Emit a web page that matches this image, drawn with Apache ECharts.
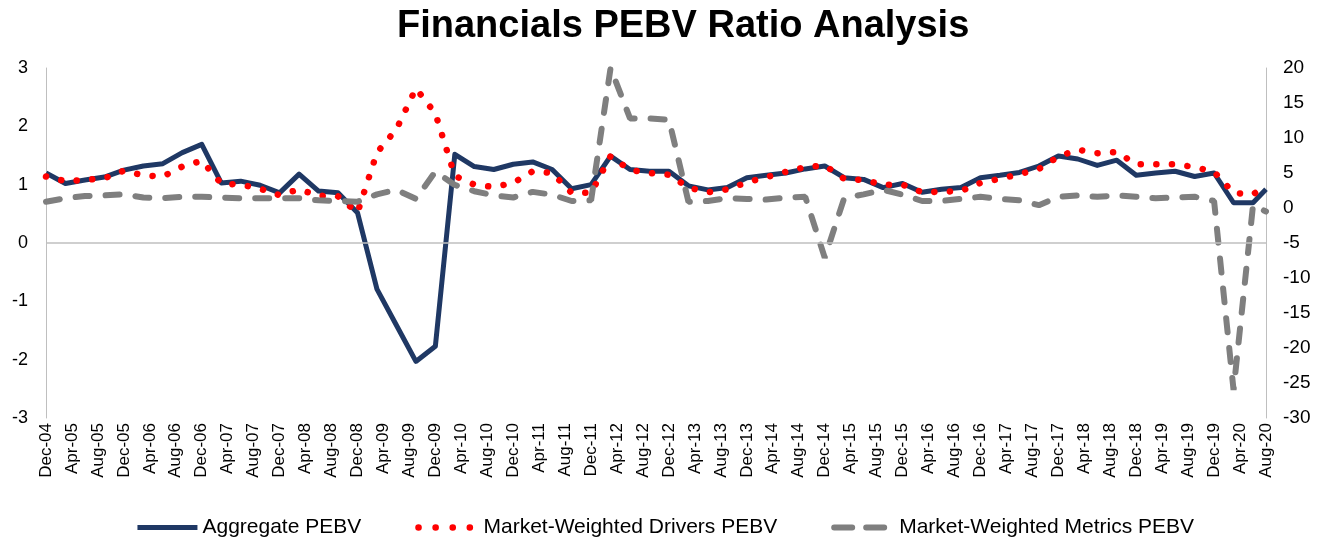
<!DOCTYPE html>
<html>
<head>
<meta charset="utf-8">
<script src="https://cdn.jsdelivr.net/npm/echarts@6/dist/echarts.min.js"></script>
<style>
  html, body { margin: 0; padding: 0; background: #fff; }
  #main { width: 1329px; height: 546px; }
</style>
</head>
<body>
<div id="main"></div>
<script>
(function() {
  const monthNames = ['Jan', 'Feb', 'Mar', 'Apr', 'May', 'Jun', 'Jul', 'Aug', 'Sep', 'Oct', 'Nov', 'Dec'];

  // monthly axis from Dec-04 to Aug-20, one label every 4 months
  const months = [];
  for (let y = 2004, m = 11; y < 2020 || (y === 2020 && m <= 7); ) {
    months.push(monthNames[m] + '-' + String(y % 100).padStart(2, '0'));
    m++;
    if (m > 11) { m = 0; y++; }
  }

  // data dates: quarter ends Dec-04 .. Jun-20, then Aug-20
  const dates = [];
  for (let i = 0; i < months.length; i += 3) dates.push(months[i]);
  dates.push(months[months.length - 1]);

  const aggregate = [
    1.20, 1.02, 1.08, 1.13, 1.25, 1.32, 1.36, 1.55, 1.69, 1.03,
    1.06, 0.99, 0.86, 1.18, 0.89, 0.86, 0.52, -0.79, -1.41, -2.03,
    -1.77, 1.52, 1.31, 1.26, 1.35, 1.39, 1.26, 0.93, 1.00, 1.49,
    1.26, 1.23, 1.23, 0.98, 0.91, 0.95, 1.12, 1.16, 1.20, 1.27,
    1.32, 1.12, 1.09, 0.95, 1.02, 0.87, 0.92, 0.95, 1.12, 1.16,
    1.21, 1.32, 1.49, 1.44, 1.33, 1.42, 1.16, 1.20, 1.23, 1.14,
    1.20, 0.69, 0.69, 0.92
  ];

  const drivers = [
    1.14, 1.06, 1.08, 1.11, 1.24, 1.16, 1.14, 1.31, 1.41, 1.02,
    1.00, 0.93, 0.82, 0.92, 0.81, 0.80, 0.52, 1.55, 1.95, 2.65,
    2.22, 1.15, 1.00, 0.96, 1.03, 1.23, 1.20, 0.86, 0.86, 1.49,
    1.25, 1.20, 1.17, 0.95, 0.87, 0.92, 1.04, 1.13, 1.22, 1.30,
    1.33, 1.10, 1.08, 1.00, 1.00, 0.87, 0.88, 0.89, 1.03, 1.10,
    1.18, 1.27, 1.48, 1.60, 1.54, 1.56, 1.35, 1.35, 1.35, 1.30,
    1.22, 0.86, 0.83, 1.00
  ];

  const metrics = [
    0.9, 1.4, 1.7, 1.8, 1.95, 1.5, 1.4, 1.6, 1.6, 1.5,
    1.4, 1.4, 1.4, 1.4, 1.1, 1.0, 0.9, 1.95, 2.6, 1.3,
    5.2, 3.3, 2.4, 1.8, 1.5, 2.3, 1.9, 1.0, 1.1, 20,
    12.8, 12.8, 12.6, 0.9, 1.0, 1.4, 1.3, 1.2, 1.5, 1.6,
    -7.1, 1.4, 1.95, 2.6, 1.9, 1.0, 1.0, 1.3, 1.6, 1.3,
    1.1, 0.4, 1.6, 1.8, 1.6, 1.8, 1.6, 1.4, 1.5, 1.6,
    1.0, -26, 0.4, -0.5
  ];

  const pairs = (vals) => vals.map((v, i) => [dates[i], v]);

  const font = 'Liberation Sans, Arial, sans-serif';
  const navyLine = { color: '#1f3864', width: 5, type: 'solid', join: 'round' };
  const redLine = { color: '#ff0000', width: 6.5, type: [0.1, 15.5], cap: 'round' };
  const greyLine = { color: '#7f7f7f', width: 6, type: [14, 16], cap: 'round' };

  const myChart = echarts.init(document.getElementById('main'));

  const option = {
    animation: false,
    title: {
      text: 'Financials PEBV Ratio Analysis',
      left: 392,
      top: 3,
      textStyle: { fontFamily: font, fontSize: 38, fontWeight: 'bold', color: '#000' }
    },
    legend: {
      bottom: 3,
      left: 'center',
      itemWidth: 60,
      itemHeight: 14,
      itemGap: 54,
      itemStyle: { opacity: 0 },
      textStyle: { fontFamily: font, fontSize: 21, color: '#000' },
      data: [
        { name: 'Aggregate PEBV', lineStyle: navyLine },
        { name: 'Market-Weighted Drivers PEBV', lineStyle: { color: '#ff0000', width: 6.5, type: [0.1, 17], cap: 'round' } },
        { name: 'Market-Weighted Metrics PEBV', lineStyle: { color: '#7f7f7f', width: 6, type: [18, 14], cap: 'round' } }
      ]
    },
    grid: { left: 46, right: 63, top: 68, bottom: 128 },
    xAxis: {
      type: 'category',
      boundaryGap: false,
      data: months,
      axisLine: { show: false, onZero: false },
      axisTick: { show: false },
      axisLabel: {
        interval: 3,
        rotate: 90,
        margin: 5,
        fontFamily: font,
        fontSize: 17,
        color: '#000'
      },
      splitLine: { show: false }
    },
    yAxis: [{
      type: 'value',
      min: -3,
      max: 3,
      interval: 1,
      axisLine: { show: true, lineStyle: { color: '#bfbfbf', width: 1 } },
      axisTick: { show: false },
      splitLine: { show: false },
      axisLabel: { fontFamily: font, fontSize: 18, color: '#000', margin: 18 }
    }, {
      type: 'value',
      min: -30,
      max: 20,
      interval: 5,
      position: 'right',
      axisLine: { show: true, lineStyle: { color: '#bfbfbf', width: 1 } },
      axisTick: { show: false },
      splitLine: { show: false },
      axisLabel: { fontFamily: font, fontSize: 19, color: '#000', margin: 17 }
    }],
    series: [{
      name: 'Aggregate PEBV',
      type: 'line',
      yAxisIndex: 0,
      showSymbol: false,
      symbol: 'none',
      data: pairs(aggregate),
      lineStyle: navyLine,
      itemStyle: { color: '#1f3864' },
      markLine: {
        silent: true,
        symbol: 'none',
        label: { show: false },
        lineStyle: { color: '#bfbfbf', width: 1.5, type: 'solid' },
        data: [{ yAxis: 0 }]
      }
    }, {
      name: 'Market-Weighted Drivers PEBV',
      type: 'line',
      yAxisIndex: 0,
      showSymbol: false,
      symbol: 'none',
      data: pairs(drivers),
      lineStyle: redLine,
      itemStyle: { color: '#ff0000' }
    }, {
      name: 'Market-Weighted Metrics PEBV',
      type: 'line',
      yAxisIndex: 1,
      showSymbol: false,
      symbol: 'none',
      data: pairs(metrics),
      lineStyle: greyLine,
      itemStyle: { color: '#7f7f7f' }
    }]
  };

  myChart.setOption(option);
})();
</script>
</body>
</html>
